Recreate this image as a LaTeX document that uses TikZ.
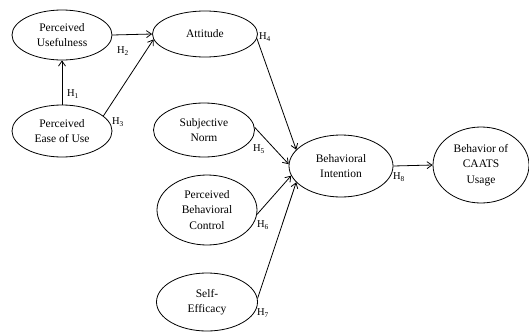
\documentclass[tikz,border=0pt]{standalone}
\usepackage{fontspec}
\setmainfont{Liberation Serif}
\usetikzlibrary{shapes.geometric,arrows.meta}
\begin{document}
\begin{tikzpicture}[x=1pt,y=-1pt,
    construct/.style={draw, thick, ellipse, align=center, inner sep=0pt,
      font=\fontsize{11.5}{15.5}\selectfont},
    path/.style={thick, -{Straight Barb[length=5pt,width=7pt]}},
    hyp/.style={font=\fontsize{10.5}{11}\selectfont, inner sep=0pt}]
    \useasboundingbox (0,0) rectangle (529,332);
    % constructs
    \node [construct, minimum width=100pt, minimum height=50pt] (pu) at (62,35) {Perceived\\Usefulness};
    \node [construct, minimum width=100pt, minimum height=52pt] (peou) at (62,131) {Perceived\\Ease of Use};
    \node [construct, minimum width=105pt, minimum height=46pt] (att) at (205,34) {Attitude};
    \node [construct, minimum width=101pt, minimum height=54pt] (sn) at (204,130) {Subjective\\Norm};
    \node [construct, minimum width=100pt, minimum height=70pt] (pbc) at (207,210) {Perceived\\Behavioral\\Control};
    \node [construct, minimum width=101pt, minimum height=58pt] (se) at (207,302) {Self-\\Efficacy};
    \node [construct, minimum width=104pt, minimum height=62pt] (bi) at (341,166) {Behavioral\\Intention};
    \node [construct, minimum width=96pt, minimum height=76pt] (bcu) at (481,165) {Behavior of\\CAATS\\Usage};
    % paths
    \draw [path] (peou.north) -- (pu.south);
    \draw [path] (pu.east) -- (att.west);
    \draw [path] (peou.20) -- (att.186);
    \draw [path] (att.-5) -- (bi.160);
    \draw [path] (sn.3) -- (bi.178);
    \draw [path] (pbc.-5) -- (bi.191);
    \draw [path] (se.4) -- (bi.200);
    \draw [path] (bi.east) -- (bcu.west);
    % hypotheses
    \node [hyp] (h1) at (73,94) {H\textsubscript{1}};
    \node [hyp] (h2) at (123,51) {H\textsubscript{2}};
    \node [hyp] (h3) at (118,122) {H\textsubscript{3}};
    \node [hyp] (h4) at (265,37) {H\textsubscript{4}};
    \node [hyp] (h5) at (259,149) {H\textsubscript{5}};
    \node [hyp] (h6) at (263,225) {H\textsubscript{6}};
    \node [hyp] (h7) at (263,313) {H\textsubscript{7}};
    \node [hyp] (h8) at (399,177) {H\textsubscript{8}};
\end{tikzpicture}
\end{document}
